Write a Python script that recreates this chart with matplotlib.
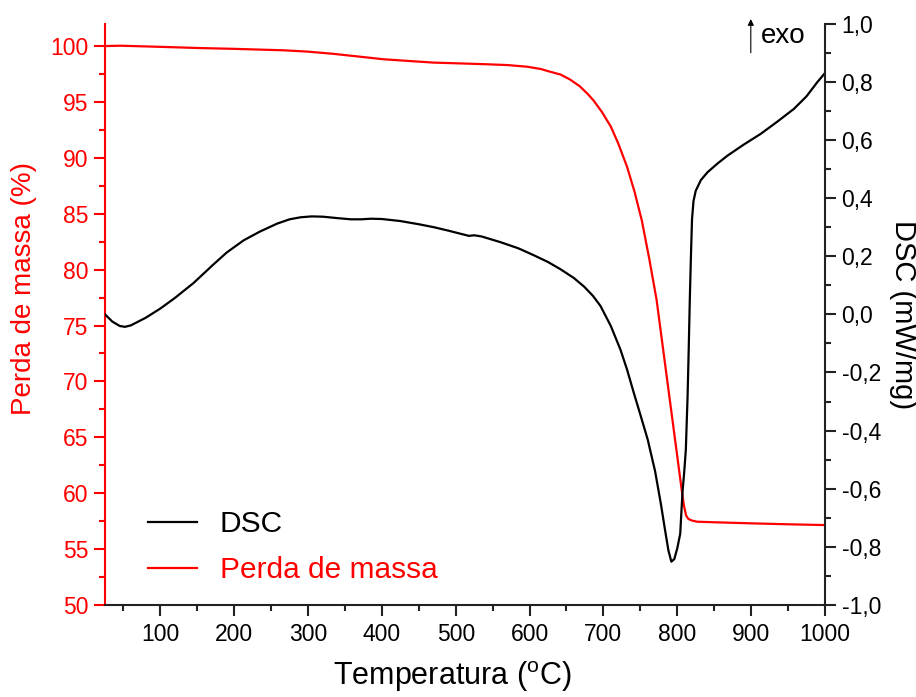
import matplotlib
matplotlib.use("Agg")
import matplotlib.pyplot as plt
from matplotlib.ticker import MultipleLocator, FuncFormatter

plt.rcParams['font.family'] = ['Liberation Sans', 'DejaVu Sans']

# DSC signal (mW/mg) versus temperature (°C)
dsc_temp = [25, 35, 45, 52, 60, 70, 80, 100, 120, 145, 172, 190, 213, 235, 258,
            275, 290, 305, 320, 340, 358, 372, 385, 400, 425, 450, 470, 490, 510,
            518, 525, 535, 561, 585, 606, 625, 642, 660, 674, 686, 696, 710, 723,
            732, 741, 750, 760, 770, 778, 783, 788, 792, 796, 800, 804, 807, 809.5,
            811.6, 814, 815.5, 817, 818.5, 820, 822, 825, 832, 841, 855, 868, 890,
            913, 935, 958, 975, 990, 1000]
dsc_val = [0.000, -0.025, -0.040, -0.043, -0.038, -0.025, -0.012, 0.020, 0.057,
           0.108, 0.172, 0.213, 0.255, 0.285, 0.312, 0.327, 0.334, 0.337, 0.336,
           0.331, 0.327, 0.327, 0.329, 0.328, 0.321, 0.310, 0.300, 0.288, 0.275,
           0.270, 0.272, 0.268, 0.248, 0.227, 0.203, 0.180, 0.155, 0.125, 0.095,
           0.063, 0.029, -0.040, -0.121, -0.190, -0.269, -0.345, -0.431, -0.540,
           -0.655, -0.735, -0.812, -0.851, -0.842, -0.805, -0.755, -0.615, -0.540,
           -0.466, -0.280, -0.120, 0.052, 0.200, 0.328, 0.390, 0.425, 0.462, 0.489,
           0.520, 0.546, 0.584, 0.621, 0.662, 0.707, 0.750, 0.800, 0.830]

# Mass loss (%) versus temperature (°C)
tga_temp = [25, 46, 100, 154, 200, 267, 300, 335, 370, 402, 440, 470, 505, 538,
            570, 597, 615, 628, 642, 655, 668, 679, 687, 698, 710, 720, 732, 742,
            752, 762, 772, 780, 788, 796, 802, 806, 809, 812, 815, 820, 827, 850,
            903, 950, 1000]
tga_val = [100.0, 100.03, 99.93, 99.82, 99.75, 99.62, 99.5, 99.3, 99.05, 98.82,
           98.65, 98.52, 98.45, 98.38, 98.3, 98.15, 97.95, 97.7, 97.45, 97.0,
           96.4, 95.7, 95.1, 94.1, 92.8, 91.3, 89.2, 87.0, 84.4, 81.0, 77.3, 73.3,
           69.3, 65.3, 62.3, 60.3, 58.9, 58.0, 57.7, 57.55, 57.45, 57.4, 57.3,
           57.22, 57.15]

RED = '#ff0000'
DARK = '#222222'

fig = plt.figure(figsize=(9.16, 6.97), dpi=100)
ax = fig.add_axes([0.1146, 0.132, 0.786, 0.834])
ax2 = ax.twinx()

l_tga, = ax.plot(tga_temp, tga_val, color=RED, lw=1.6, label='Perda de massa')
l_dsc, = ax2.plot(dsc_temp, dsc_val, color='black', lw=1.6, label='DSC')

ax.set_xlim(25, 1000)
ax.set_ylim(50, 102)
ax2.set_ylim(-1.0, 1.0)

# spines
for a in (ax, ax2):
    a.spines['top'].set_visible(False)
ax.spines['left'].set_color(RED)
ax.spines['left'].set_linewidth(1.5)
ax.spines['bottom'].set_color(DARK)
ax.spines['bottom'].set_linewidth(1.5)
ax.spines['right'].set_visible(False)
ax2.spines['left'].set_visible(False)
ax2.spines['bottom'].set_visible(False)
ax2.spines['right'].set_color(DARK)
ax2.spines['right'].set_linewidth(1.5)

# ticks
ax.xaxis.set_major_locator(MultipleLocator(100))
ax.xaxis.set_minor_locator(MultipleLocator(50))
ax.yaxis.set_major_locator(MultipleLocator(5))
ax.yaxis.set_minor_locator(MultipleLocator(2.5))
ax2.yaxis.set_major_locator(MultipleLocator(0.2))
ax2.yaxis.set_minor_locator(MultipleLocator(0.1))

TS = 16.5
ax.tick_params(axis='x', which='major', direction='out', length=8, width=1.5,
               color=DARK, labelsize=TS, pad=5)
ax.tick_params(axis='x', which='minor', direction='out', length=4, width=1.5,
               color=DARK)
ax.tick_params(axis='y', which='major', direction='out', length=8, width=1.5,
               color=RED, labelcolor=RED, labelsize=TS, pad=4)
ax.tick_params(axis='y', which='minor', direction='out', length=4, width=1.5,
               color=RED)
ax2.tick_params(axis='y', which='major', direction='out', length=8, width=1.5,
                color=DARK, labelsize=TS, pad=4)
ax2.tick_params(axis='y', which='minor', direction='out', length=4, width=1.5,
                color=DARK)


def comma_fmt(v, pos):
    if abs(v) < 1e-9:
        v = 0.0
    return f"{v:.1f}".replace('.', ',')


ax2.yaxis.set_major_formatter(FuncFormatter(comma_fmt))

ax.set_xlabel('Temperatura ($\\mathregular{^{o}}$C)', fontsize=22)
ax.xaxis.set_label_coords(0.482, -0.094)
ax.set_ylabel('Perda de massa (%)', fontsize=20, color=RED)
ax.yaxis.set_label_coords(-0.094, 0.545)
ax2.set_ylabel('DSC (mW/mg)', fontsize=21, rotation=270, labelpad=26)

# exothermic direction marker
ax2.annotate('', xy=(0.897, 1.008), xytext=(0.897, 0.95),
             xycoords='axes fraction',
             arrowprops=dict(arrowstyle='-|>', color='black', lw=0.8,
                             mutation_scale=9, shrinkA=0, shrinkB=0))
ax2.text(0.911, 0.978, 'exo', transform=ax2.transAxes, fontsize=20,
         ha='left', va='center')

leg = ax2.legend(handles=[l_dsc, l_tga], loc='lower left',
                 bbox_to_anchor=(0.031, 0.0), frameon=False, fontsize=21.5,
                 handlelength=1.65, handletextpad=0.75, labelspacing=0.6,
                 borderpad=0.2)
for txt, col in zip(leg.get_texts(), ['black', RED]):
    txt.set_color(col)

fig.savefig('out.png', dpi=100)
